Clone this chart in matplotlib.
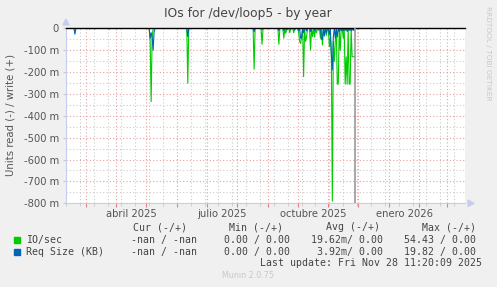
import datetime as dt
import matplotlib
matplotlib.use("Agg")
import matplotlib.pyplot as plt
import matplotlib.dates as mdates
import numpy as np

# munin "IOs for /dev/loop5 - by year"  (read values, milli-units, drawn negative)
first_day = dt.date(2025, 2, 13)
last_day = dt.date(2025, 11, 28)

io_dates = ["2025-05-05", "2025-05-06", "2025-05-07", "2025-06-12", "2025-08-18",
            "2025-08-26", "2025-09-12", "2025-09-17", "2025-09-19", "2025-09-23",
            "2025-09-27", "2025-10-02", "2025-10-03", "2025-10-04", "2025-10-05",
            "2025-10-07", "2025-10-09", "2025-10-10", "2025-10-14", "2025-10-16",
            "2025-10-18", "2025-10-20", "2025-10-24", "2025-10-26", "2025-10-28",
            "2025-10-30", "2025-11-02", "2025-11-03", "2025-11-04", "2025-11-05",
            "2025-11-06", "2025-11-07", "2025-11-08", "2025-11-10", "2025-11-11",
            "2025-11-13", "2025-11-16", "2025-11-18", "2025-11-19", "2025-11-20",
            "2025-11-22", "2025-11-23", "2025-11-25", "2025-11-26", "2025-11-27",
            "2025-11-28"]
io_read = [-60, -335, -40, -251, -187,
           -73, -73, -45, -23, -20,
           -20, -20, -61, -69, -38,
           -221, -60, -38, -99, -38,
           -40, -20, -45, -76, -30,
           -32, -84, -40, -120, -790,
           -60, -152, -60, -255, -255,
           -100, -45, -255, -130, -255,
           -255, -255, -130, -130, -130,
           -130]

req_dates = ["2025-02-18", "2025-03-05", "2025-03-10", "2025-03-25", "2025-05-05",
             "2025-05-06", "2025-05-07", "2025-05-08", "2025-05-09", "2025-06-12",
             "2025-08-18", "2025-08-26", "2025-09-12", "2025-09-17", "2025-09-20",
             "2025-09-24", "2025-09-28", "2025-10-02", "2025-10-04", "2025-10-05",
             "2025-10-07", "2025-10-10", "2025-10-14", "2025-10-18", "2025-10-22",
             "2025-10-25", "2025-10-26", "2025-10-28", "2025-10-30", "2025-11-02",
             "2025-11-04", "2025-11-05", "2025-11-06", "2025-11-08", "2025-11-10",
             "2025-11-12", "2025-11-14", "2025-11-16", "2025-11-18", "2025-11-20",
             "2025-11-22", "2025-11-24", "2025-11-26", "2025-11-28"]
req_read = [-27, -3, -3, -3, -45,
            -20, -40, -100, -15, -38,
            -15, -5, -10, -10, -8,
            -5, -8, -10, -45, -45,
            -20, -12, -15, -10, -8,
            -50, -50, -35, -20, -30,
            -120, -190, -40, -45, -40,
            -15, -10, -12, -10, -15,
            -10, -12, -10, -8]

y_ticks = [0, -100, -200, -300, -400, -500, -600, -700, -800]
x_labels = ["abril 2025", "julio 2025", "octubre 2025", "enero 2026"]
x_label_months = [(2025, 4), (2025, 7), (2025, 10), (2026, 1)]

legend_names = ["IO/sec", "Req Size (KB)"]
legend_colors = ["#00CC00", "#0066B3"]
cur_vals = ["-nan / -nan", "-nan / -nan"]
min_vals = ["0.00 / 0.00", "0.00 / 0.00"]
avg_vals = ["19.62m/ 0.00", "3.92m/ 0.00"]
max_vals = ["54.43 / 0.00", "19.82 / 0.00"]


def daily_series(dates, values):
    n = (last_day - first_day).days + 1
    days = [first_day + dt.timedelta(days=i) for i in range(n)]
    vals = np.zeros(n)
    for d, v in zip(dates, values):
        vals[(dt.date.fromisoformat(d) - first_day).days] = v
    return days, vals


W, H = 497, 287
fig = plt.figure(figsize=(W / 100, H / 100), dpi=100, facecolor="#F0F0F0")
ax = fig.add_axes([66 / W, 1 - 203.3 / H, (465 - 66) / W, (203.3 - 28.3) / H])
ax.set_facecolor("white")

days, io_vals = daily_series(io_dates, io_read)
_, req_vals = daily_series(req_dates, req_read)
ax.plot(days, io_vals, color=legend_colors[0], lw=0.8, zorder=3)
ax.plot(days, req_vals, color=legend_colors[1], lw=0.8, zorder=4)

x0 = dt.date(2025, 2, 13)
x1 = dt.date(2026, 3, 19)
ax.set_xlim(x0, x1)
ax.set_ylim(-800, 0)

# grid
red = "#e6a0a0"
gray = "#cccccc"
month_starts = [dt.date(2025 + (m - 1) // 12, (m - 1) % 12 + 1, 1) for m in range(3, 16)]
minor_days = [dt.date(2025, 12, 14) + dt.timedelta(days=14 * k) for k in range(-22, 7)]
ax.set_xticks(month_starts)
ax.set_xticks(minor_days, minor=True)
ax.set_xticklabels([])
ax.set_yticks(y_ticks)
ax.set_yticks(np.arange(-750, 0, 100), minor=True)
ax.set_yticklabels(["0"] + ["%d m" % v for v in y_ticks[1:]])
ax.grid(True, which="major", color=red, ls=(0, (1, 2)), lw=0.8)
ax.grid(True, which="minor", color=gray, ls=(0, (1, 2)), lw=0.8)
ax.set_axisbelow(True)
ax.tick_params(axis="x", which="major", length=3, color="#e08080", pad=1)
ax.tick_params(axis="x", which="minor", length=2, color="#c8c8c8")
ax.tick_params(axis="y", which="major", length=2, color="#c8c8c8", labelsize=7.2,
               labelcolor="#555555", pad=3)
ax.tick_params(axis="y", which="minor", length=0)

for (yy, mm), lab in zip(x_label_months, x_labels):
    mid = mdates.date2num(dt.date(yy, mm, 1)) + 15.5
    ax.text(mid, -0.035, lab, transform=ax.get_xaxis_transform(), ha="center",
            va="top", fontsize=7.2, color="#555555")

ax.axhline(0, color="black", lw=1.0, zorder=5, clip_on=False)
ax.axvline(last_day, color="#999999", lw=1.2, zorder=5)

for s in ["top", "right"]:
    ax.spines[s].set_visible(False)
for s in ["left", "bottom"]:
    ax.spines[s].set_color("#c8ccee")
    ax.spines[s].set_linewidth(0.8)
# axis arrows
fig.patches.append(plt.Polygon([[63 / W, 1 - 25 / H], [69 / W, 1 - 25 / H], [66 / W, 1 - 19 / H]],
                               closed=True, transform=fig.transFigure, color="#c8ccee"))
fig.patches.append(plt.Polygon([[468 / W, 1 - 200 / H], [468 / W, 1 - 206.5 / H], [474 / W, 1 - 203.3 / H]],
                               closed=True, transform=fig.transFigure, color="#c8ccee"))

fig.text(248 / W, 1 - 14 / H, "IOs for /dev/loop5 - by year", ha="center", va="center",
         fontsize=8.8, color="#444444")
fig.text(11 / W, 1 - 115 / H, "Units read (-) / write (+)", rotation=90, ha="center",
         va="center", fontsize=7.3, color="#555555")
fig.text(488 / W, 1 - 6 / H, "RRDTOOL / TOBI OETIKER", rotation=270, ha="center", va="top",
         fontsize=5.3, color="#c8c8c8")

mono = dict(family="DejaVu Sans Mono", fontsize=7.1, color="#444444", va="center")
fig.text(187 / W, 1 - 227 / H, "Cur (-/+)", ha="right", **mono)
fig.text(283 / W, 1 - 227 / H, "Min (-/+)", ha="right", **mono)
fig.text(380 / W, 1 - 227 / H, "Avg (-/+)", ha="right", **mono)
fig.text(476 / W, 1 - 227 / H, "Max (-/+)", ha="right", **mono)
for i, name in enumerate(legend_names):
    yc = 1 - (240 + 12 * i) / H
    fig.patches.append(plt.Rectangle((14 / W, yc - 3 / H), 6 / W, 6 / H, transform=fig.transFigure,
                                     color=legend_colors[i]))
    fig.text(26 / W, yc, name, ha="left", **mono)
    fig.text(197 / W, yc, cur_vals[i], ha="right", **mono)
    fig.text(290 / W, yc, min_vals[i], ha="right", **mono)
    fig.text(383 / W, yc, avg_vals[i], ha="right", **mono)
    fig.text(476 / W, yc, max_vals[i], ha="right", **mono)
fig.text(482 / W, 1 - 263.5 / H, "Last update: Fri Nov 28 11:20:09 2025", ha="right", **mono)
fig.text(248 / W, 1 - 276 / H, "Munin 2.0.75", ha="center", va="center", fontsize=5.8,
         color="#c8c8c8")

fig.savefig("out.png", dpi=100, facecolor=fig.get_facecolor())
